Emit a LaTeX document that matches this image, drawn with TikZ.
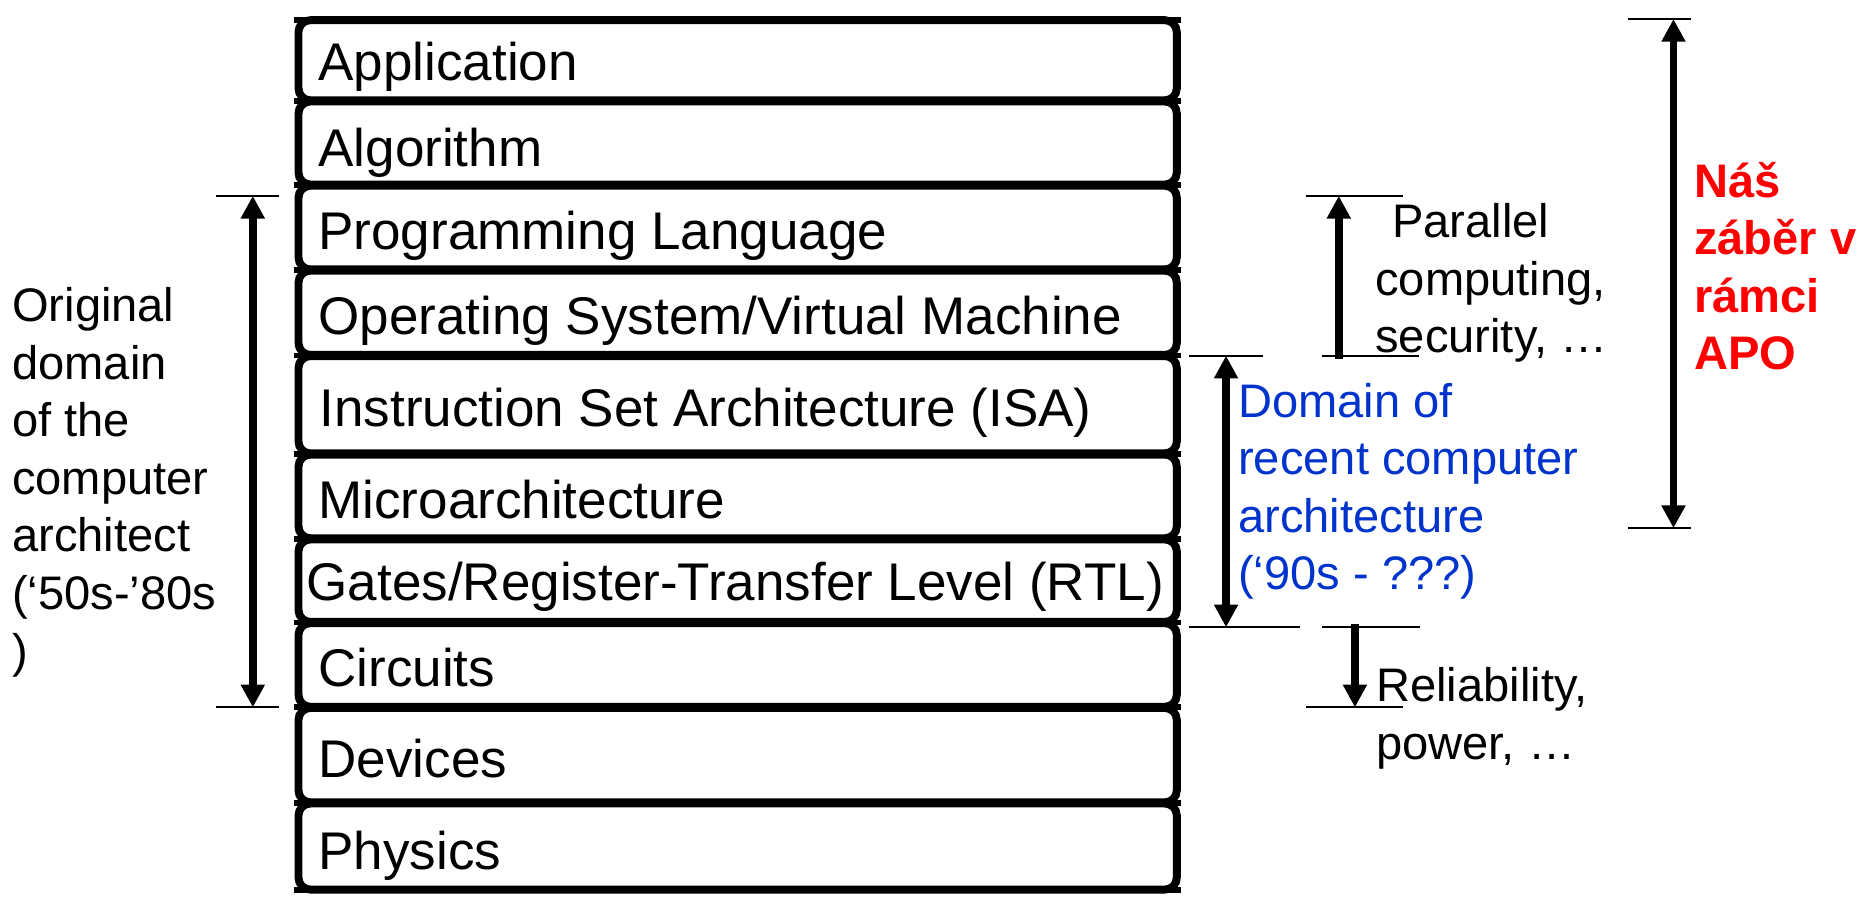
\documentclass[tikz,border=0pt]{standalone}
\usepackage{fontspec}
\setmainfont{Liberation Sans}
\usetikzlibrary{arrows.meta}
\definecolor{domainblue}{RGB}{0,51,204}
\definecolor{scopered}{RGB}{255,0,0}

\begin{document}
\begin{tikzpicture}[x=0.6pt,y=-0.6pt,
  layerbox/.style={draw=black, line width=4pt, rounded corners=6pt, fill=white},
  sepline/.style={draw=black, line width=3pt, line cap=butt},
  layertext/.style={anchor=base west, inner sep=0pt, font=\fontsize{26.8}{32}\selectfont},
  sidetext/.style={anchor=base west, inner sep=0pt},
  tickbar/.style={line width=1pt},
  tip/.tip={Triangle[width=11.5pt,length=11.5pt]},
  spanup/.style={line width=3.8pt, -tip},
  spanboth/.style={line width=3.8pt, tip-tip}]
\useasboundingbox (0,0) rectangle (1568,756);

% layer boxes (between the separator positions)
\foreach \t/\b in {16.5/85, 85/156, 156/227.5, 227.5/299.5, 299.5/382.5,
                   382.5/454, 454/524.5, 524.5/596, 596/676.5, 676.5/750}
  \draw[layerbox] (251.5,\t+0.5) rectangle (991.5,\b-0.5);
\foreach \y in {16.5, 85, 156, 227.5, 299.5, 382.5, 454, 524.5, 596, 676.5, 750}
  \draw[sepline] (248,\y) -- (995,\y);

% layer names
\node[layertext] (app)   at (268,68)  {Application};
\node[layertext] (alg)   at (268,140) {Algorithm};
\node[layertext] (prog)  at (268,210) {Programming Language};
\node[layertext] (os)    at (268,282) {Operating System/Virtual Machine};
\node[layertext] (isa)   at (269,359) {Instruction Set Architecture (ISA)};
\node[layertext] (micro) at (268,437) {Microarchitecture};
\node[layertext] (rtl)   at (258,506) {Gates/Register-Transfer Level (RTL)};
\node[layertext] (circ)  at (268,578) {Circuits};
\node[layertext] (dev)   at (268,655) {Devices};
\node[layertext] (phys)  at (268,733) {Physics};

% original domain (left)
\coordinate (origtop) at (213,165);
\coordinate (origbot) at (213,596);
\draw[tickbar] (182,165) -- (235,165);
\draw[tickbar] (182,596) -- (235,596);
\draw[spanboth] (origtop) -- (origbot);
\node[sidetext] (origtext) at (10,271)
  {\parbox[t]{220pt}{\raggedright\fontsize{23.8}{29.1}\selectfont
   Original\\domain\\of the\\computer\\architect\\(‘50s-’80s\\)}};

% recent domain
\coordinate (domtop) at (1033,299.7);
\coordinate (dombot) at (1033,528.5);
\draw[tickbar] (1002,299.7) -- (1064,299.7);
\draw[tickbar] (1002,528.5) -- (1095,528.5);
\draw[spanboth] (domtop) -- (dombot);
\node[sidetext, text=domainblue] (domtext) at (1043,351.5)
  {\parbox[t]{300pt}{\raggedright\fontsize{23.8}{29.1}\selectfont
   Domain of\\recent computer\\architecture\\(‘90s - ???)}};

% upward extension
\coordinate (parbot) at (1128,302.5);
\coordinate (partop) at (1128,165);
\draw[tickbar] (1100.4,165) -- (1182.4,165);
\draw[tickbar] (1113.5,299.7) -- (1195.8,299.7);
\draw[spanup] (parbot) -- (partop);
\node[sidetext] (partext) at (1158.5,200.3)
  {\parbox[t]{200pt}{\raggedright\fontsize{23.8}{29.1}\selectfont
   \hspace*{8.5pt}Parallel\\computing,\\security, …}};

% downward extension
\coordinate (reltop) at (1141.6,525.7);
\coordinate (relbot) at (1141.6,596);
\draw[tickbar] (1113.5,528.5) -- (1196.4,528.5);
\draw[tickbar] (1100.4,596) -- (1182.3,596);
\draw[spanup] (reltop) -- (relbot);
\node[sidetext] (reltext) at (1159.3,591)
  {\parbox[t]{200pt}{\raggedright\fontsize{23.8}{29.1}\selectfont
   Reliability,\\power, …}};

% course scope
\coordinate (apotop) at (1410,16);
\coordinate (apobot) at (1410,445);
\draw[tickbar] (1372,16) -- (1425,16);
\draw[tickbar] (1372,445) -- (1425,445);
\draw[spanboth] (apotop) -- (apobot);
\node[sidetext, text=scopered] (apotext) at (1427,166)
  {\parbox[t]{120pt}{\raggedright\fontsize{23.8}{29.1}\selectfont\bfseries
   Náš\\záběr v\\rámci\\APO}};
\end{tikzpicture}
\end{document}
